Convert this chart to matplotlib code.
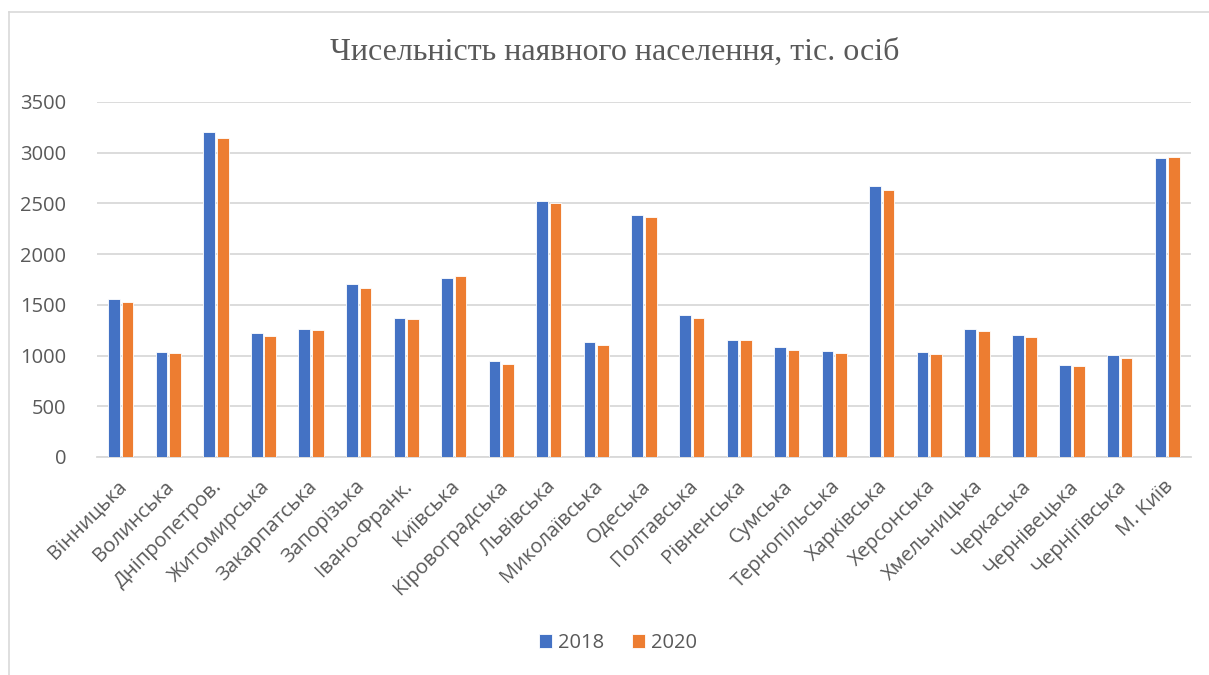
import matplotlib
matplotlib.use("Agg")
import matplotlib.pyplot as plt
import numpy as np
from matplotlib.lines import Line2D
from matplotlib.transforms import ScaledTranslation

regions = ["Вінницька", "Волинська", "Дніпропетров.", "Житомирська", "Закарпатська",
           "Запорізька", "Івано-Франк.", "Київська", "Кіровоградська", "Львівська",
           "Миколаївська", "Одеська", "Полтавська", "Рівненська", "Сумська",
           "Тернопільська", "Харківська", "Херсонська", "Хмельницька", "Черкаська",
           "Чернівецька", "Чернігівська", "М. Київ"]
pop_2018 = [1560, 1038, 3204, 1222, 1258, 1708, 1373, 1767, 946, 2527, 1133, 2382,
            1400, 1156, 1080, 1048, 2675, 1038, 1265, 1206, 907, 1005, 2951]
pop_2020 = [1528, 1025, 3141, 1195, 1252, 1669, 1360, 1787, 920, 2500, 1107, 2369,
            1373, 1150, 1058, 1028, 2635, 1015, 1245, 1179, 897, 976, 2961]
series_labels = ["2018", "2020"]
title = "Чисельність наявного населення, тіс. осіб"
yticks = [0, 500, 1000, 1500, 2000, 2500, 3000, 3500]

plt.rcParams['font.family'] = ['Open Sans', 'DejaVu Sans']
TXT = "#595959"
GRID = "#d9d9d9"
BLUE = "#4472c4"
ORANGE = "#ed7d31"
FS = 14.5

W, H = 1209, 675
fig = plt.figure(figsize=(W / 100, H / 100), dpi=100)
ax = fig.add_axes([97 / W, 1 - 457 / H, (1191 - 97) / W, (457 - 102) / H])

x = np.arange(len(regions))
bw = 0.245
ax.bar(x - 0.143, pop_2018, bw, color=BLUE, edgecolor="white", linewidth=0.6,
       label=series_labels[0], zorder=3)
ax.bar(x + 0.143, pop_2020, bw, color=ORANGE, edgecolor="white", linewidth=0.6,
       label=series_labels[1], zorder=3)

ax.set_xlim(-0.5, len(regions) - 0.5)
ax.set_ylim(0, 3500)
ax.set_yticks(yticks)
ax.set_yticklabels([str(v) for v in yticks], fontsize=FS, color=TXT)
ax.yaxis.grid(True, color=GRID, linewidth=1.3, zorder=0)
ax.tick_params(axis='y', length=0, pad=22)
ax.tick_params(axis='x', length=0, pad=14)
ax.set_xticks(x)
ax.set_xticklabels(regions, rotation=45, ha='right', va='top',
                   rotation_mode='anchor', fontsize=FS, color=TXT)
shift = ScaledTranslation(-4 / 100, 0, fig.dpi_scale_trans)
for lbl in ax.get_xticklabels():
    lbl.set_transform(lbl.get_transform() + shift)
for s in ["top", "right", "left"]:
    ax.spines[s].set_visible(False)
ax.spines["bottom"].set_color(GRID)
ax.spines["bottom"].set_linewidth(1.3)

fig.text(615 / W, 1 - 52 / H, title, ha='center', va='center', fontsize=23,
         color=TXT, family=['Liberation Serif', 'DejaVu Serif'])

handles, labels = ax.get_legend_handles_labels()
fig.legend(handles, labels, loc='center', bbox_to_anchor=(618 / W, 1 - 643 / H),
           ncol=2, frameon=False, fontsize=FS, labelcolor=TXT,
           handlelength=0.65, handleheight=0.65, handletextpad=0.3, columnspacing=1.4)

# chart frame (left and top edges visible)
fig.add_artist(Line2D([9 / W, 9 / W], [0, 1 - 12 / H], transform=fig.transFigure,
                      color=GRID, linewidth=1.2))
fig.add_artist(Line2D([9 / W, 1], [1 - 12 / H, 1 - 12 / H], transform=fig.transFigure,
                      color=GRID, linewidth=1.2))

fig.savefig("out.png", dpi=100, facecolor="white")
